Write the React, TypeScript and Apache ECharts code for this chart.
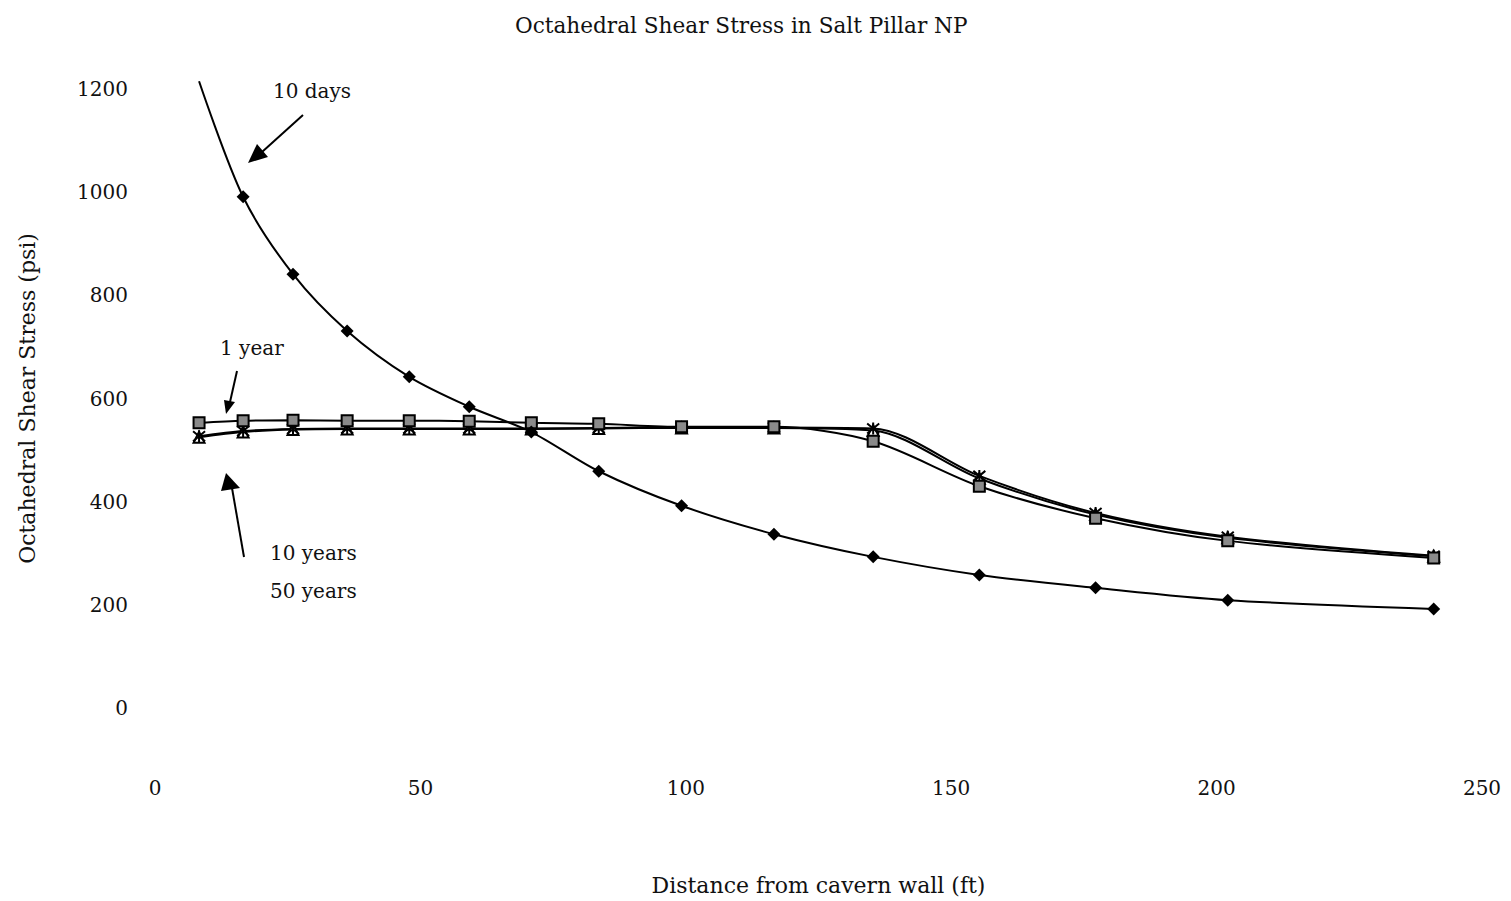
import React, { useEffect, useRef } from "react";
import * as echarts from "echarts";

const title = "Octahedral Shear Stress in Salt Pillar NP";
const xName = "Distance from cavern wall (ft)";
const yName = "Octahedral Shear Stress (psi)";

const distances = [8.3, 16.6, 26, 36.2, 47.9, 59.2, 70.9, 83.6, 99.2, 116.6, 135.3, 155.3, 177.2, 202.1, 240.9];
const days10 = [1215, 991, 841, 731, 642, 584, 535, 459, 392, 337, 293, 258, 233, 209, 192];
const year1 = [553, 557, 558, 557, 557, 556, 553, 551, 545, 545, 517, 430, 368, 324, 291];
const years10 = [525, 535, 540, 541, 541, 541, 541, 542, 543, 543, 538, 445, 375, 330, 294];
const years50 = [527, 537, 541, 542, 542, 542, 542, 543, 544, 544, 542, 450, 378, 332, 295];

const xMin = 0, xMax = 250, xStep = 50;
const yMin = 0, yMax = 1200, yStep = 200;

const FONT = "'DejaVu Serif', 'Liberation Serif', serif";

function pairs(ys: number[]) {
  return distances.map((x, i) => [x, ys[i]]);
}

export default function App() {
  const ref = useRef<HTMLDivElement>(null);
  useEffect(() => {
    if (!ref.current) return;
    const chart = echarts.init(ref.current, undefined, { renderer: "svg" });
    const d10 = pairs(days10).map((p, i) =>
      i === 0 ? { value: p, symbol: "none" } : { value: p }
    );
    const baseLine = { color: "#000", width: 2 };
    chart.setOption({
      animation: false,
      backgroundColor: "#fff",
      title: {
        text: title,
        left: 510,
        top: 9,
        textStyle: { fontFamily: FONT, fontSize: 21.6, fontWeight: "normal", color: "#111" },
      },
      grid: { left: 155, right: 29, top: 89, bottom: 193 },
      xAxis: {
        type: "value",
        min: xMin,
        max: xMax,
        interval: xStep,
        name: xName,
        nameLocation: "middle",
        nameGap: 166,
        nameTextStyle: { fontFamily: FONT, fontSize: 22, color: "#111" },
        axisLine: { show: false },
        axisTick: { show: false },
        splitLine: { show: false },
        axisLabel: { margin: 70, fontFamily: FONT, fontSize: 20, color: "#111", formatter: (v: number) => String(v) },
      },
      yAxis: {
        type: "value",
        min: yMin,
        max: yMax,
        interval: yStep,
        name: yName,
        nameLocation: "middle",
        nameGap: 117,
        nameTextStyle: { fontFamily: FONT, fontSize: 22, color: "#111" },
        axisLine: { show: false },
        axisTick: { show: false },
        splitLine: { show: false },
        axisLabel: { margin: 27, fontFamily: FONT, fontSize: 20, color: "#111", formatter: (v: number) => String(v) },
      },
      series: [
        {
          name: "10 days",
          type: "line",
          data: d10,
          smooth: 0.3,
          clip: false,
          symbol: "diamond",
          symbolSize: 13,
          lineStyle: baseLine,
          itemStyle: { color: "#000" },
          z: 5,
        },
        {
          name: "1 year",
          type: "line",
          data: pairs(year1),
          smooth: 0.3,
          symbol: "rect",
          symbolSize: 11,
          lineStyle: baseLine,
          itemStyle: { color: "#8a8a8a", borderColor: "#000", borderWidth: 2 },
          z: 4,
        },
        {
          name: "10 years",
          type: "line",
          data: pairs(years10),
          smooth: 0.3,
          symbol: "triangle",
          symbolSize: 11,
          lineStyle: baseLine,
          itemStyle: { color: "#fff", borderColor: "#000", borderWidth: 2 },
          z: 3,
        },
        {
          name: "50 years",
          type: "line",
          data: pairs(years50),
          smooth: 0.3,
          symbol: "path://M0,0L10,10M10,0L0,10M5,-1L5,11",
          symbolSize: 12,
          lineStyle: baseLine,
          itemStyle: { color: "none", borderColor: "#000", borderWidth: 2 },
          z: 3,
        },
      ],
      graphic: [
        { type: "text", left: 273, top: 81, style: { text: "10 days", font: `20px ${FONT}`, fill: "#111" } },
        { type: "line", shape: { x1: 303, y1: 115, x2: 262, y2: 152 }, style: { stroke: "#000", lineWidth: 2 } },
        { type: "polygon", shape: { points: [[248, 163], [257, 144], [268, 157]] }, style: { fill: "#000" } },

        { type: "text", left: 220, top: 338, style: { text: "1 year", font: `20px ${FONT}`, fill: "#111" } },
        { type: "line", shape: { x1: 237, y1: 371, x2: 230, y2: 402 }, style: { stroke: "#000", lineWidth: 2 } },
        { type: "polygon", shape: { points: [[226, 414], [224, 400], [235, 402]] }, style: { fill: "#000" } },

        { type: "text", left: 270, top: 543, style: { text: "10 years", font: `20px ${FONT}`, fill: "#111" } },
        { type: "text", left: 270, top: 581, style: { text: "50 years", font: `20px ${FONT}`, fill: "#111" } },
        { type: "line", shape: { x1: 244, y1: 557, x2: 232, y2: 488 }, style: { stroke: "#000", lineWidth: 2 } },
        { type: "polygon", shape: { points: [[226, 473], [221, 491], [240, 488]] }, style: { fill: "#000" } },
      ],
    });
    return () => chart.dispose();
  }, []);
  return (
    <div
      ref={ref}
      style={{ position: "fixed", left: 0, top: 0, width: 1511, height: 901, background: "#fff" }}
    />
  );
}
